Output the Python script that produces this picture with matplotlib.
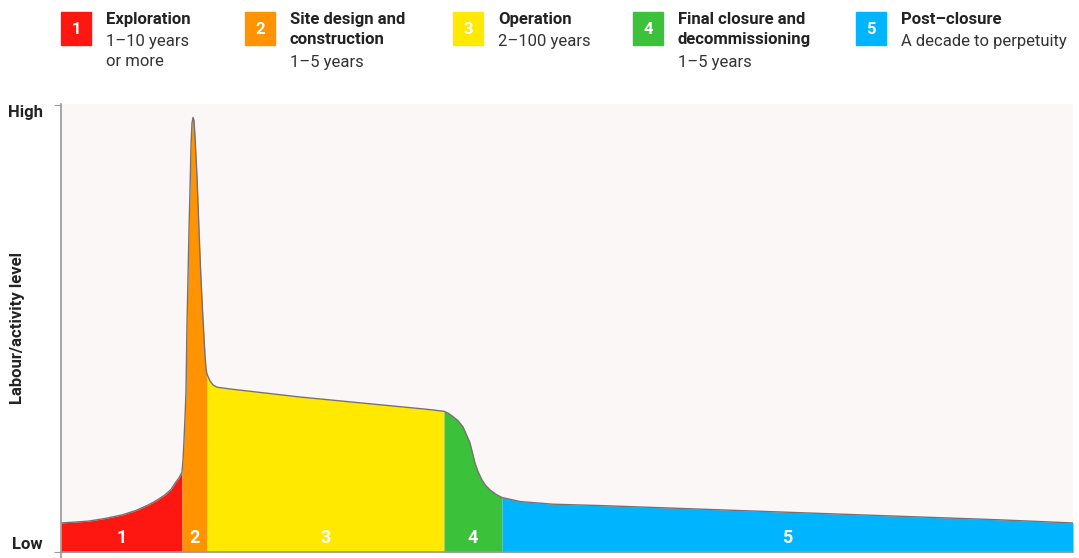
import matplotlib
matplotlib.use("Agg")
import matplotlib.pyplot as plt
import numpy as np
from matplotlib import font_manager
from matplotlib.patches import Rectangle

names = {f.name for f in font_manager.fontManager.ttflist}
FONT = "Liberation Sans Narrow" if "Liberation Sans Narrow" in names else "Roboto"
plt.rcParams["font.family"] = [FONT, "DejaVu Sans"]

# phases
PHASE_NUM = ["1", "2", "3", "4", "5"]
PHASE_TITLE = ["Exploration", "Site design and\nconstruction", "Operation",
               "Final closure and\ndecommissioning", "Post\u2013closure"]
PHASE_DUR = ["1\u201310 years\nor more", "1\u20135 years", "2\u2013100 years",
             "1\u20135 years", "A decade to perpetuity"]
PHASE_COLOR = ["#fe1610", "#ff9400", "#ffe900", "#3cc13b", "#00b5fe"]
PHASE_EDGES = [0, 121, 146, 383, 441, 1012]

# activity curve (time position, level 0=Low .. 100=High)
CURVE_X = [0, 14, 27, 44, 61, 75, 87, 96, 104, 110, 114, 118, 121, 122, 123, 124, 125,
           126, 128, 129, 130, 131, 132, 133, 134, 136, 138, 140, 142, 144, 145, 146,
           149, 152, 156, 169, 239, 322, 359, 372, 379, 383, 387, 392, 397, 402, 405,
           409, 414, 417, 421, 425, 429, 435, 441, 459, 492, 539, 639, 739, 839, 939,
           1012]
CURVE_Y = [6.5, 6.7, 6.9, 7.5, 8.3, 9.3, 10.5, 11.6, 12.8, 14.0, 15.4, 16.6, 17.9, 20.6,
           25, 30, 36, 51, 72, 81, 91, 96, 97.3, 96.6, 93, 84, 72, 61, 52, 44, 41, 39.8,
           38.3, 37.4, 36.9, 36.5, 34.7, 32.9, 32.1, 31.8, 31.6, 31.5, 31.1, 30.3, 29.4,
           28.0, 26.5, 24.4, 19.9, 18.0, 16.1, 14.8, 13.9, 12.9, 12.2, 11.3, 10.7, 10.4,
           9.6, 8.8, 8.0, 7.2, 6.5]
Y_TICKS = [0, 100]
Y_TICKLABELS = ["Low", "High"]

W, H = 1079, 558
fig = plt.figure(figsize=(W / 100, H / 100), dpi=100)
ax = fig.add_axes([61 / W, 6 / H, 1012 / W, 448 / H])
ax.set_facecolor("#fcf7f7")

x = np.array(CURVE_X, dtype=float)
y = np.array(CURVE_Y, dtype=float)
for i, c in enumerate(PHASE_COLOR):
    m = (x >= PHASE_EDGES[i]) & (x <= PHASE_EDGES[i + 1])
    ax.fill_between(x[m], 0, y[m], color=c, lw=0, zorder=2)
    ax.text((PHASE_EDGES[i] + PHASE_EDGES[i + 1]) / 2, 3.2, PHASE_NUM[i], color="white",
            fontsize=13, fontweight="bold", ha="center", va="center", zorder=4)
ax.plot(x, y, color="#7a7070", lw=1, zorder=3, solid_joinstyle="round")

ax.set_xlim(PHASE_EDGES[0], PHASE_EDGES[-1])
ax.set_ylim(0, 100.3)
ax.set_xticks([])
ax.set_yticks(Y_TICKS)
ax.set_yticklabels(Y_TICKLABELS, fontsize=12, fontweight="bold", color="#222")
ax.get_yticklabels()[0].set_va("bottom")
ax.get_yticklabels()[1].set_va("top")
ax.tick_params(axis="y", length=5, color="#999", pad=8)
ax.set_ylabel("Labour/activity level", fontsize=12, fontweight="bold", color="#222")
ax.yaxis.set_label_coords(-36 / 1012, 0.5)
for s in ["top", "right"]:
    ax.spines[s].set_visible(False)
for s in ["left", "bottom"]:
    ax.spines[s].set_color("#999")
    ax.spines[s].set_linewidth(1.2)
ax.spines["left"].set_bounds(-1.5, 100.3)
ax.spines["left"].set_zorder(5)

# legend strip along the top
lg = fig.add_axes([0, 0, 1, 1], zorder=-1)
lg.set_xlim(0, W); lg.set_ylim(H, 0); lg.axis("off")
sq_x = [61, 245, 453, 633, 856]
for i in range(5):
    lg.add_patch(Rectangle((sq_x[i], 12), 30, 33, color=PHASE_COLOR[i]))
    lg.text(sq_x[i] + 15, 29, PHASE_NUM[i], color="white", fontsize=12,
            fontweight="bold", ha="center", va="center")
    tx = sq_x[i] + 45
    lg.text(tx, 12, PHASE_TITLE[i], fontsize=12, fontweight="bold", color="#222",
            va="top", ha="left", linespacing=1.45)
    nlines = PHASE_TITLE[i].count("\n") + 1
    lg.text(tx, 13 + 21 * nlines, PHASE_DUR[i], fontsize=12, color="#333",
            va="top", ha="left", linespacing=1.45)

fig.savefig("out.png", dpi=100)
